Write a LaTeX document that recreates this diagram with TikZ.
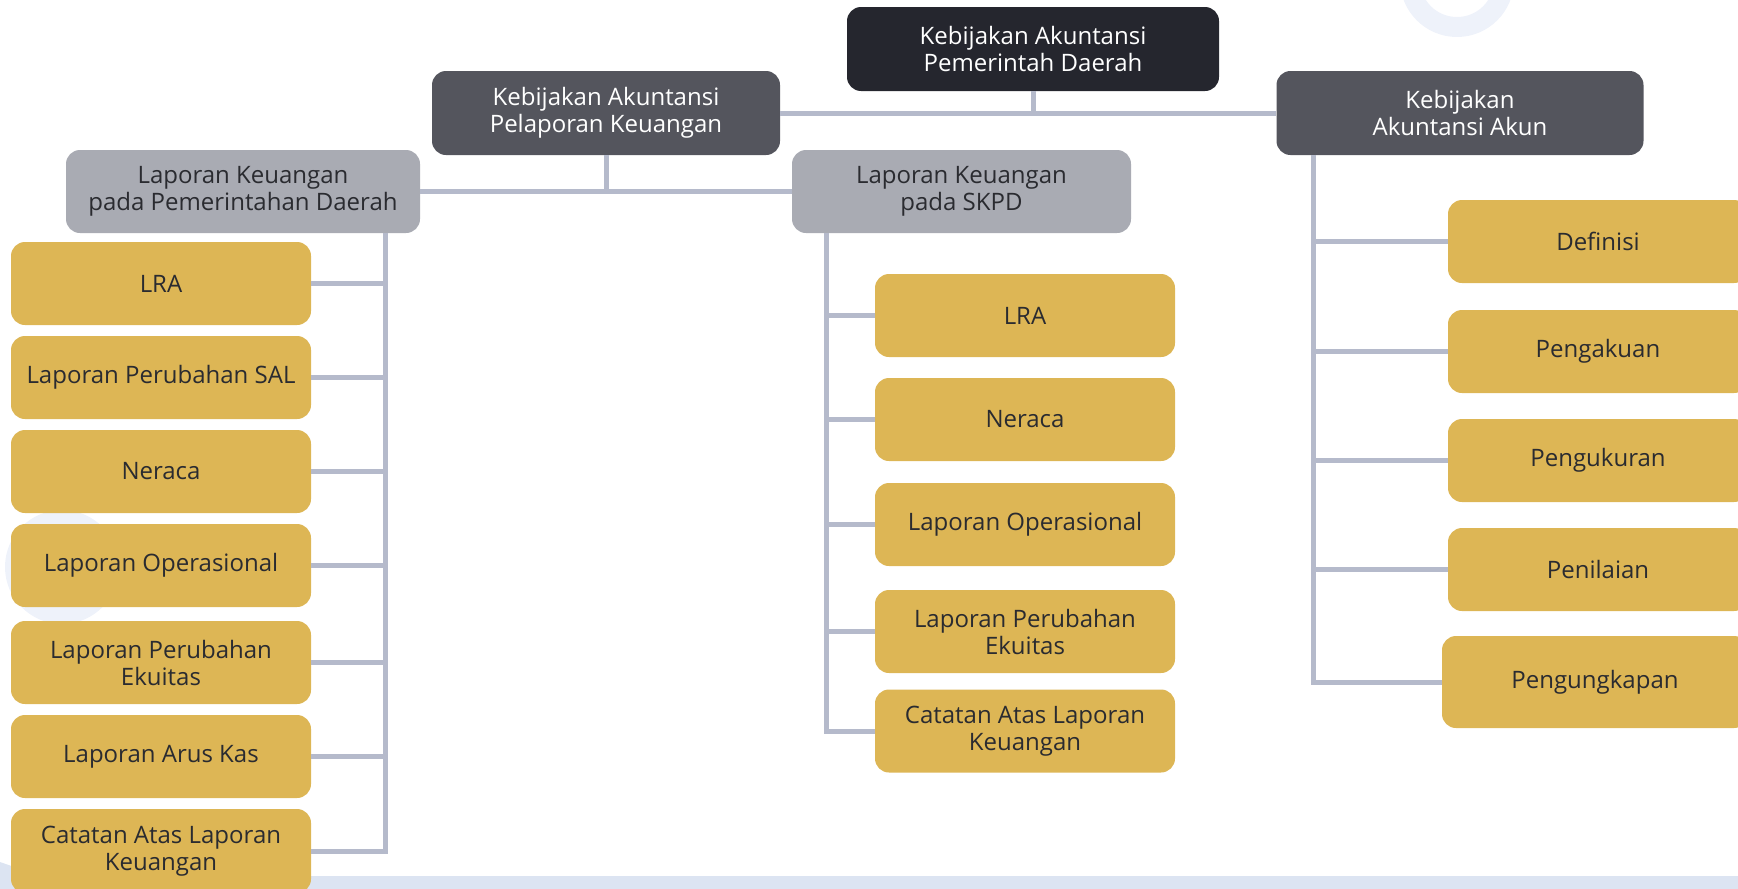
\documentclass[tikz,border=0pt]{standalone}
\usepackage{fontspec}
\setmainfont{Open Sans}
\definecolor{dk}{HTML}{25262E}
\definecolor{mid}{HTML}{54555D}
\definecolor{gry}{HTML}{A9ABB3}
\definecolor{yel}{HTML}{DDB655}
\definecolor{ln}{HTML}{B5BACB}
\definecolor{txt}{HTML}{2A2B30}
\definecolor{deco}{HTML}{EEF2FA}
\definecolor{band}{HTML}{DCE4F2}
\begin{document}
\begin{tikzpicture}[x=1pt,y=-1pt,
  base/.style={rounded corners=14pt, align=center, inner sep=0pt, font=\fontsize{24}{27}\selectfont},
  ybox/.style={base, fill=yel, text=txt, minimum width=300pt, minimum height=83pt},
  gbox/.style={base, fill=gry, text=txt, minimum height=83pt},
  dbox/.style={base, fill=mid, text=white, minimum height=84pt},
  conn/.style={draw=ln, line width=5pt, line join=miter}]
\useasboundingbox (0,0) rectangle (1738,889);
\clip (0,0) rectangle (1738,889);
% background decorations
\fill[deco, even odd rule] (1457,-20) circle (57pt) (1457,-20) circle (37pt);
\fill[deco] (62,567) circle (57pt);
\fill[band] (0,862) -- (40,876) -- (1738,876) -- (1738,889) -- (0,889) -- cycle;
% nodes
\node[dbox, fill=dk, minimum width=372pt] (top) at (1033,49) {Kebijakan Akuntansi\\Pemerintah Daerah};
\node[dbox, minimum width=348pt] (kapk) at (606,113) {Kebijakan Akuntansi\\Pelaporan Keuangan};
\node[dbox, minimum width=367pt] (kaa) at (1460,113) {Kebijakan\\Akuntansi Akun};
\node[gbox, minimum width=354pt] (lg) at (243,191.5) {Laporan Keuangan\\pada Pemerintahan Daerah};
\node[gbox, minimum width=339pt] (rg) at (961.5,191.5) {Laporan Keuangan\\pada SKPD};
% left column
\node[ybox] (l1) at (161,283.5) {LRA};
\node[ybox] (l2) at (161,377.5) {Laporan Perubahan SAL};
\node[ybox] (l3) at (161,471.5) {Neraca};
\node[ybox] (l4) at (161,565.5) {Laporan Operasional};
\node[ybox] (l5) at (161,662.5) {Laporan Perubahan\\Ekuitas};
\node[ybox] (l6) at (161,756.5) {Laporan Arus Kas};
\node[ybox, minimum height=84pt] (l7) at (161,851) {Catatan Atas Laporan\\Keuangan};
% middle column
\node[ybox] (m1) at (1025,315.5) {LRA};
\node[ybox] (m2) at (1025,419.5) {Neraca};
\node[ybox] (m3) at (1025,524.5) {Laporan Operasional};
\node[ybox] (m4) at (1025,631.5) {Laporan Perubahan\\Ekuitas};
\node[ybox] (m5) at (1025,731) {Catatan Atas Laporan\\Keuangan};
% right column
\node[ybox] (r1) at (1598,241.5) {Definisi};
\node[ybox] (r2) at (1598,351.5) {Pengakuan};
\node[ybox] (r3) at (1598,460.5) {Pengukuran};
\node[ybox] (r4) at (1598,569.5) {Penilaian};
\node[ybox, minimum width=306pt, minimum height=92pt] (r5) at (1595,682) {Pengungkapan};
% spine coordinates
\coordinate (spL) at (385,0);
\coordinate (spM) at (826,0);
\coordinate (spR) at (1313,0);
% connectors
\draw[conn] (top.south) -- (top.south |- kapk.east);
\draw[conn] (kapk.east) -- (kaa.west);
\draw[conn] (kapk.south) -- (kapk.south |- lg.east);
\draw[conn] (lg.east) -- (rg.west);
\draw[conn] (lg.south -| spL) -- (spL |- l7.east) -- (l7.east);
\foreach \n in {l1,l2,l3,l4,l5,l6} \draw[conn] (\n.east) -- (\n.east -| spL);
\draw[conn] (rg.south -| spM) -- (spM |- m5.west) -- (m5.west);
\foreach \n in {m1,m2,m3,m4} \draw[conn] (\n.west) -- (\n.west -| spM);
\draw[conn] (kaa.south -| spR) -- (spR |- r5.west) -- (r5.west);
\foreach \n in {r1,r2,r3,r4} \draw[conn] (\n.west) -- (\n.west -| spR);
\end{tikzpicture}
\end{document}
